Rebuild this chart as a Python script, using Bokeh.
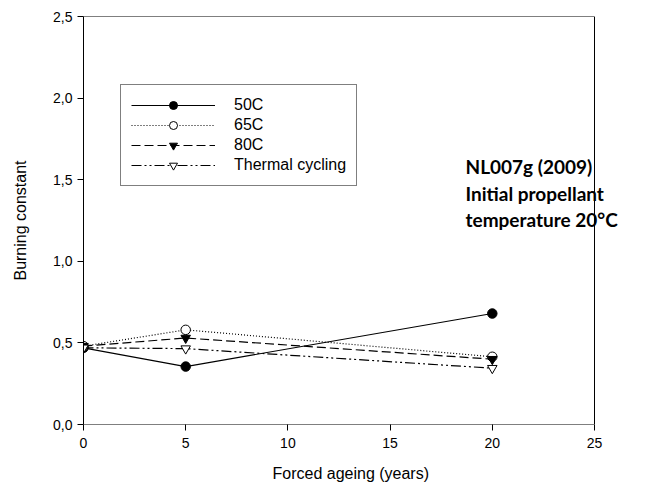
from bokeh.plotting import figure
from bokeh.models import (Range1d, FixedTicker, CustomJSTickFormatter, Legend, LegendItem, Label,
                          Title)
from bokeh.embed import file_html
from bokeh.resources import INLINE

years = [0, 5, 20]
s50 = [0.47, 0.355, 0.68]
s65 = [0.48, 0.58, 0.415]
s80 = [0.48, 0.53, 0.40]
sth = [0.47, 0.465, 0.345]
series_names = ["50C", "65C", "80C", "Thermal cycling"]
x_ticks = [0, 5, 10, 15, 20, 25]
y_ticks = [0.0, 0.5, 1.0, 1.5, 2.0, 2.5]

# The frame is widened to the window's right edge so the annotation text is not clipped;
# the visible plot box (0..25 x 0..2.5) is drawn as a line path.
x_max = x_ticks[-1]
y_max = y_ticks[-1]
frame_w = 662 - 83
box_w = 511
x_end = x_max * frame_w / box_w

p = figure(width=662, height=498, output_backend="svg", toolbar_location=None,
           x_range=Range1d(0, x_end), y_range=Range1d(0, y_max),
           min_border_left=83, min_border_right=0, min_border_top=16, min_border_bottom=74)
p.xgrid.visible = False
p.ygrid.visible = False
p.outline_line_color = None

font = "Liberation Sans"
for ax in (p.xaxis[0], p.yaxis[0]):
    ax.major_tick_line_color = "black"
    ax.minor_tick_line_color = None
    ax.major_tick_out = 6
    ax.major_tick_in = 0
    ax.major_label_text_font = font
    ax.major_label_text_font_size = "14px"
    ax.major_label_text_color = "black"
    ax.axis_label_text_font = font
    ax.axis_label_text_font_size = "16px"
    ax.axis_label_text_font_style = "normal"
    ax.axis_label_text_color = "black"
p.yaxis.axis_line_color = "black"
p.xaxis.axis_line_color = None

# plot box: bottom, right and top edges
p.line([0, x_max, x_max, 0], [0, 0, y_max, y_max], line_color="black", line_width=1)

p.xaxis.ticker = FixedTicker(ticks=x_ticks)
p.yaxis.ticker = FixedTicker(ticks=y_ticks)
p.xaxis.formatter = CustomJSTickFormatter(code="return tick.toFixed(0);")
p.yaxis.formatter = CustomJSTickFormatter(code="return tick.toFixed(1).replace('.', ',');")
p.yaxis.axis_label = "Burning constant"
p.xaxis.major_label_standoff = 7
p.yaxis.major_label_standoff = 5
p.yaxis.axis_label_standoff = 21

p.add_layout(Title(text="Forced ageing (years)", align="left", offset=189,
                   text_font=font, text_font_size="16px", text_font_style="normal",
                   text_color="black", standoff=24), "below")

specs = [
    (s50, "solid", "circle", "black"),
    (s65, "1 2", "circle", "white"),
    (s80, "9 4", "inverted_triangle", "black"),
    (sth, "10 3 2 3 2 3", "inverted_triangle", "white"),
]
items = []
for (ys, dash, marker, fill), name in zip(specs, series_names):
    l = p.line(years, ys, line_color="black", line_width=1.2, line_dash=dash)
    m = p.scatter(years, ys, marker=marker, size=9.5, fill_color=fill, line_color="black", line_width=1)
    items.append(LegendItem(label=name, renderers=[l, m]))

legend = Legend(items=items, location=(37, 238), glyph_width=84, glyph_height=20,
                label_text_font=font, label_text_font_size="16px", label_standoff=19,
                label_text_color="black",
                spacing=0, padding=10, margin=0, border_line_color="black",
                border_line_width=1, background_fill_alpha=1,
                label_height=16)
p.add_layout(legend, "center")

ann = ["NL007g (2009)", "Initial propellant", "temperature 20°C"]
for i, t in enumerate(ann):
    p.add_layout(Label(x=382, y=258 - i * 26.5, x_units="screen", y_units="screen",
                       text=t, text_font="Lato", text_font_style="bold", text_font_size="19px",
                       text_color="black", text_baseline="middle"))

open("out.html", "w").write(file_html(p, INLINE))
